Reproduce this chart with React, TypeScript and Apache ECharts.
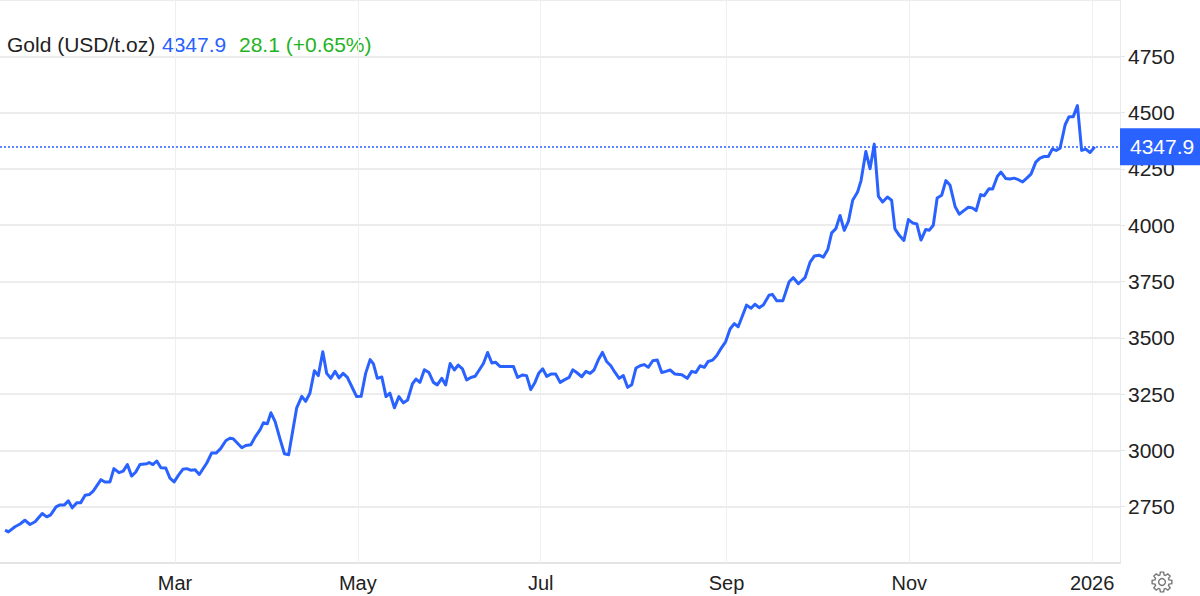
import React, { useEffect, useRef } from "react";
import * as echarts from "echarts";

// Days since 2025-01-01 (UTC) for each trading-day observation
const dayOffsets = [
  2.3, 3.4, 5.6, 7.3, 8.9, 10.6, 12.3, 14.7, 16.2, 17.5, 19.3, 20.6, 22.1, 23.4, 24.7, 26.2, 27.5, 29, 30.4, 31.7,
  34.3, 35.6, 37.3, 38.6, 40.3, 41.7, 43.1, 44.5, 45.9, 47.3, 49.6, 50.4, 51.6, 52.9, 54.3, 55.9, 57.3, 58.7, 60.1, 61.6,
  62.9, 64.2, 65.7, 67.1,
  69.6, 71.2, 72.7, 74.2, 76, 77.3, 78.4, 81.3, 82.6, 84.3, 85.7, 87.4, 88.5, 89.8, 91, 92.4, 94, 95.5, 96.9, 99.6,
  101.3, 102.6, 104, 105.5, 106.8, 108.3, 109.6, 111, 112.4, 113.7, 115.1, 116.5, 118.2, 119.6, 121.1, 122.6, 124.1,
  125.2, 126.5, 128, 129.4, 130.7,
  132.2, 133.7, 135.2, 136.6, 138.2, 139.4, 140.7, 142.2, 143.7, 145.2, 146.5, 148, 149.3, 150.8, 152.2, 153.5, 154.9,
  156.3, 157.7, 159.1, 160.5, 161.9, 163.3, 164.7, 166, 167.4, 168.9, 170.4, 171.9, 173.3, 174.9, 176.3, 177.7, 179.1,
  180.4, 181.7, 183, 184.4, 186, 187.5, 188.9, 190.5, 191.7, 193, 194.7,
  196.1, 197.5, 198.8, 200.2, 201.6, 203, 204.4, 205.8, 207.2, 208.6, 210, 211.4, 212.8, 214.2, 215.5, 216.9, 218.4,
  219.9, 221.4, 222.8, 224.2, 225.8, 228.1, 229.9, 231.4, 232.8, 234.2, 235.6, 236.9, 238.4, 239.7, 241.2, 242.7,
  244.2, 245.6, 246.9, 248.3, 249.7, 251.2, 252.5, 253.9, 255.3, 257.2,
  258.3, 259.8, 261.8, 263.9, 265.3, 267, 269.2, 270.9, 272.3, 273.9, 275.3, 276.8, 278.1, 279.5, 280.9, 282.3, 283.7,
  285.1, 286.7, 287.9, 289.5, 290.9, 292.3, 293.7, 295.1, 296.7, 298.1, 299.2, 300.7, 302.2, 303.7, 305.1, 306.5,
  307.9, 309.5, 310.7, 312, 313.3, 314.8, 316.2, 317.6, 319.3, 320.7,
  322.3, 323.7, 325, 326.3, 327.8, 329, 330.6, 331.8, 333.4, 334.6, 336.2, 337.6, 339, 340.4, 341.8, 343.2, 344.6,
  346.2, 347.6, 349, 350.4, 351.7, 353, 354.3, 356, 357.3, 358.7, 360.1, 361.5, 362.9, 364.3, 365.9,
];

// Gold price, USD per troy ounce
const prices = [
  2646, 2638, 2661, 2673, 2690, 2671, 2683, 2720, 2705, 2714, 2749, 2758, 2758, 2776, 2745, 2767, 2767, 2801, 2804, 2819,
  2870, 2860, 2860, 2919, 2901, 2908, 2937, 2886, 2904, 2937, 2941, 2946, 2937, 2953, 2923, 2922, 2877, 2860, 2889, 2916,
  2919, 2912, 2914, 2893,
  2944, 2988, 2988, 3008, 3044, 3054, 3052, 3012, 3022, 3025, 3059, 3092, 3123, 3118, 3167, 3128, 3052, 2985, 2981, 3189,
  3240, 3218, 3254, 3354, 3332, 3438, 3342, 3320, 3351, 3322, 3342, 3324, 3277, 3239, 3240, 3342, 3403, 3384, 3320, 3326,
  3239, 3254,
  3189, 3239, 3211, 3224, 3295, 3317, 3302, 3358, 3346, 3302, 3291, 3320, 3291, 3386, 3357, 3379, 3362, 3313, 3324, 3329,
  3357, 3386, 3435, 3388, 3391, 3373, 3373, 3373, 3373, 3324, 3335, 3332, 3270, 3302, 3344, 3362, 3329, 3339, 3339, 3302,
  3313, 3324, 3358, 3346, 3327,
  3351, 3342, 3357, 3401, 3435, 3395, 3376, 3346, 3320, 3332, 3280, 3292, 3366, 3376, 3381, 3369, 3398, 3401, 3346, 3351,
  3357, 3339, 3336, 3320, 3351, 3346, 3376, 3369, 3395, 3401, 3420, 3453, 3482, 3539, 3563, 3549, 3597, 3645, 3631, 3649,
  3634, 3646, 3689,
  3693, 3664, 3664, 3749, 3767, 3740, 3767, 3836, 3863, 3867, 3858, 3892, 3966, 3985, 4043, 3977, 4018, 4111, 4146, 4198,
  4327, 4251, 4360, 4128, 4103, 4125, 4111, 3984, 3954, 3932, 4025, 4010, 4006, 3934, 3981, 3978, 4000, 4121, 4133, 4198,
  4177, 4082, 4049,
  4066, 4080, 4077, 4065, 4136, 4131, 4162, 4161, 4217, 4236, 4207, 4205, 4209, 4202, 4192, 4209, 4227, 4280, 4298, 4305,
  4305, 4338, 4332, 4342, 4446, 4482, 4482, 4531, 4332, 4338, 4323, 4347.9,
];

const xTickDates: [number, number, number][] = [
  [2025, 2, 1],
  [2025, 4, 1],
  [2025, 6, 1],
  [2025, 8, 1],
  [2025, 10, 1],
  [2026, 0, 1],
];
const xTickLabels = ["Mar", "May", "Jul", "Sep", "Nov", "2026"];

const yMin = 2500;
const yMax = 5000;
const yStep = 250;

const titleName = "Gold (USD/t.oz)";
const lastPrice = 4347.9;
const changeText = "28.1 (+0.65%)";

const DAY = 86400000;
const BASE = Date.UTC(2025, 0, 1);
const X_MIN_DAY = 0.6;
const X_MAX_DAY = 374.3;

const BLUE = "#2962ff";
const GREEN = "#1fb324";
const FONT = "Liberation Sans, Arial, Helvetica, sans-serif";

function gearPoints(cx: number, cy: number, rOut: number, rIn: number, teeth: number) {
  const pts: number[][] = [];
  for (let i = 0; i < teeth; i++) {
    const a = (i * 2 * Math.PI) / teeth;
    const half = Math.PI / teeth;
    pts.push([cx + rIn * Math.cos(a - half * 0.75), cy + rIn * Math.sin(a - half * 0.75)]);
    pts.push([cx + rOut * Math.cos(a - half * 0.42), cy + rOut * Math.sin(a - half * 0.42)]);
    pts.push([cx + rOut * Math.cos(a + half * 0.42), cy + rOut * Math.sin(a + half * 0.42)]);
    pts.push([cx + rIn * Math.cos(a + half * 0.75), cy + rIn * Math.sin(a + half * 0.75)]);
  }
  return pts;
}

export default function App() {
  const ref = useRef<HTMLDivElement>(null);

  useEffect(() => {
    document.body.style.margin = "0";
    if (!ref.current) return;
    const chart = echarts.init(ref.current, undefined, { renderer: "svg" });

    const n = Math.min(dayOffsets.length, prices.length);
    const seriesData: [number, number][] = [];
    for (let i = 0; i < n; i++) seriesData.push([BASE + dayOffsets[i] * DAY, prices[i]]);

    const tickTimes = xTickDates.map(([y, m, d]) => Date.UTC(y, m, d));

    chart.setOption({
      animation: false,
      backgroundColor: "#ffffff",
      grid: { left: 0, right: 80, top: -2, bottom: 33, containLabel: false },
      xAxis: {
        type: "value",
        min: BASE + X_MIN_DAY * DAY,
        max: BASE + X_MAX_DAY * DAY,
        axisLine: { show: true, lineStyle: { color: "#e3e3e3", width: 2 } },
        axisTick: {
          show: true,
          inside: true,
          length: 565,
          customValues: tickTimes,
          lineStyle: { color: "#ebf0f5", width: 1 },
        },
        splitLine: { show: false },
        axisLabel: {
          customValues: tickTimes,
          formatter: (v: number) => {
            const i = tickTimes.indexOf(v);
            return i >= 0 ? xTickLabels[i] : "";
          },
          color: "#222",
          fontSize: 20,
          fontFamily: FONT,
          margin: 10,
        },
      },
      yAxis: {
        type: "value",
        position: "right",
        min: yMin,
        max: yMax,
        interval: yStep,
        axisLine: { show: true, lineStyle: { color: "#e6eaef", width: 1 } },
        axisTick: { show: true, length: 5, lineStyle: { color: "#e6e6e6" } },
        splitLine: { show: true, lineStyle: { color: "#e6e6e6", width: 1.5 } },
        axisLabel: {
          showMinLabel: false,
          showMaxLabel: false,
          formatter: (v: number) => String(v),
          color: "#222",
          fontSize: 21,
          fontFamily: FONT,
          margin: 8,
          align: "left",
        },
      },
      graphic: [
        {
          type: "text",
          x: 7,
          y: 44,
          style: { text: titleName, fill: "#222", fontSize: 21, fontFamily: FONT, verticalAlign: "middle" },
        },
        {
          type: "text",
          x: 162,
          y: 44,
          style: { text: lastPrice.toFixed(1), fill: BLUE, fontSize: 21, fontFamily: FONT, verticalAlign: "middle" },
        },
        {
          type: "text",
          x: 239,
          y: 44,
          style: { text: changeText, fill: GREEN, fontSize: 21, fontFamily: FONT, verticalAlign: "middle" },
        },
        {
          type: "polygon",
          shape: { points: gearPoints(1162, 582, 10, 7.3, 8) },
          style: { fill: "none", stroke: "#777", lineWidth: 1.4 },
        },
        {
          type: "circle",
          shape: { cx: 1162, cy: 582, r: 3.4 },
          style: { fill: "none", stroke: "#777", lineWidth: 1.4 },
        },
      ],
      series: [
        {
          type: "line",
          data: seriesData,
          showSymbol: false,
          symbol: "none",
          color: BLUE,
          lineStyle: { color: BLUE, width: 3, join: "round" },
          z: 3,
          markLine: {
            silent: true,
            symbol: "none",
            data: [{ yAxis: lastPrice, lineStyle: { color: BLUE, type: [2, 2], width: 1.5, opacity: 1 } }],
            lineStyle: { color: BLUE, type: [2, 2], width: 1.5, opacity: 1 },
            label: {
              show: true,
              position: "end",
              distance: 0,
              formatter: lastPrice.toFixed(1),
              color: "#fff",
              backgroundColor: BLUE,
              fontSize: 21,
              lineHeight: 21,
              fontFamily: FONT,
              padding: [8, 9, 8, 10],
            },
          },
        },
      ],
    });

    return () => chart.dispose();
  }, []);

  return <div ref={ref} style={{ width: 1200, height: 596 }} />;
}
